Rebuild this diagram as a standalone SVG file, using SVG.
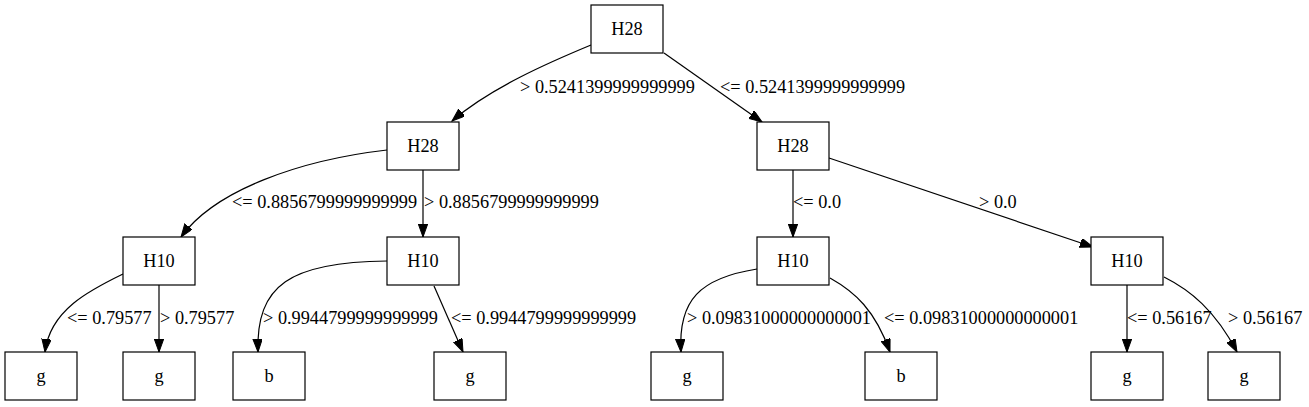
<svg xmlns="http://www.w3.org/2000/svg" width="1309" height="407" viewBox="0 0 1309 407">
<style>
  .node rect { fill: #ffffff; stroke: #000000; stroke-width: 1.2; }
  .node text { font-family: "Liberation Serif", "Times New Roman", serif; font-size: 18.3px; text-anchor: middle; fill: #000000; }
  .edge path { fill: none; stroke: #000000; stroke-width: 1.2; marker-end: url(#arrow); }
  .lbl { font-family: "Liberation Serif", "Times New Roman", serif; font-size: 18.3px; fill: #000000; }
</style>
<defs>
  <marker id="arrow" markerUnits="userSpaceOnUse" markerWidth="14" markerHeight="10" refX="13" refY="4.7" orient="auto" viewBox="0 0 14 10">
    <path d="M0,0 L13,4.7 L0,9.4 z" fill="#000000" stroke="#000000" stroke-width="1"/>
  </marker>
</defs>
<rect x="0" y="0" width="1309" height="407" fill="#ffffff"/>

<g id="connectors">
  <g class="edge" id="e_root_l"><path d="M591,45 C550,62 490,88 452,121"/></g>
  <g class="edge" id="e_root_r"><path d="M664,53 L762,122"/></g>
  <g class="edge" id="e_l_ll"><path d="M387,150 C300,160 215,190 181,237"/></g>
  <g class="edge" id="e_l_lr"><path d="M423,170 L423,237"/></g>
  <g class="edge" id="e_r_rl"><path d="M793,170 L793,237"/></g>
  <g class="edge" id="e_r_rr"><path d="M829,158 L1093,247"/></g>
  <g class="edge" id="e_ll_1"><path d="M123,274 C90,290 50,310 45,352"/></g>
  <g class="edge" id="e_ll_2"><path d="M159,285 L159,352"/></g>
  <g class="edge" id="e_lr_1"><path d="M387,261 C290,262 256,285 258,352"/></g>
  <g class="edge" id="e_lr_2"><path d="M434,286 L463,352"/></g>
  <g class="edge" id="e_rl_1"><path d="M757,269 C700,278 678,300 681,352"/></g>
  <g class="edge" id="e_rl_2"><path d="M830,278 C855,292 875,310 890,352"/></g>
  <g class="edge" id="e_rr_1"><path d="M1127,285 L1127,352"/></g>
  <g class="edge" id="e_rr_2"><path d="M1164,277 C1190,290 1215,310 1237,352"/></g>

  <text class="lbl" x="520" y="92.5">&gt; 0.5241399999999999</text>
  <text class="lbl" x="720" y="92.5">&lt;= 0.5241399999999999</text>
  <text class="lbl" x="232" y="208">&lt;= 0.8856799999999999</text>
  <text class="lbl" x="424" y="208">&gt; 0.8856799999999999</text>
  <text class="lbl" x="793" y="208">&lt;= 0.0</text>
  <text class="lbl" x="979" y="208">&gt; 0.0</text>
  <text class="lbl" x="67" y="324">&lt;= 0.79577</text>
  <text class="lbl" x="160" y="324">&gt; 0.79577</text>
  <text class="lbl" x="263" y="324">&gt; 0.9944799999999999</text>
  <text class="lbl" x="451" y="324">&lt;= 0.9944799999999999</text>
  <text class="lbl" x="687" y="324">&gt; 0.09831000000000001</text>
  <text class="lbl" x="884" y="324">&lt;= 0.09831000000000001</text>
  <text class="lbl" x="1127" y="324">&lt;= 0.56167</text>
  <text class="lbl" x="1228" y="324">&gt; 0.56167</text>
</g>

<g class="node" id="n_root"><rect x="591" y="5" width="72" height="48"/><text x="627" y="35">H28</text></g>
<g class="node" id="n_l"><rect x="387" y="122" width="72" height="48"/><text x="423" y="152">H28</text></g>
<g class="node" id="n_r"><rect x="757" y="122" width="72" height="48"/><text x="793" y="152">H28</text></g>
<g class="node" id="n_ll"><rect x="123" y="237" width="72" height="48"/><text x="159" y="267">H10</text></g>
<g class="node" id="n_lr"><rect x="387" y="237" width="72" height="48"/><text x="423" y="267">H10</text></g>
<g class="node" id="n_rl"><rect x="757" y="237" width="72" height="48"/><text x="793" y="267">H10</text></g>
<g class="node" id="n_rr"><rect x="1091" y="237" width="72" height="48"/><text x="1127" y="267">H10</text></g>
<g class="node" id="n_leaf1"><rect x="5" y="352" width="72" height="48"/><text x="41" y="382">g</text></g>
<g class="node" id="n_leaf2"><rect x="123" y="352" width="72" height="48"/><text x="159" y="382">g</text></g>
<g class="node" id="n_leaf3"><rect x="233" y="352" width="72" height="48"/><text x="269" y="382">b</text></g>
<g class="node" id="n_leaf4"><rect x="434" y="352" width="72" height="48"/><text x="470" y="382">g</text></g>
<g class="node" id="n_leaf5"><rect x="651" y="352" width="72" height="48"/><text x="687" y="382">g</text></g>
<g class="node" id="n_leaf6"><rect x="865" y="352" width="72" height="48"/><text x="901" y="382">b</text></g>
<g class="node" id="n_leaf7"><rect x="1091" y="352" width="72" height="48"/><text x="1127" y="382">g</text></g>
<g class="node" id="n_leaf8"><rect x="1208" y="352" width="72" height="48"/><text x="1244" y="382">g</text></g>
</svg>
